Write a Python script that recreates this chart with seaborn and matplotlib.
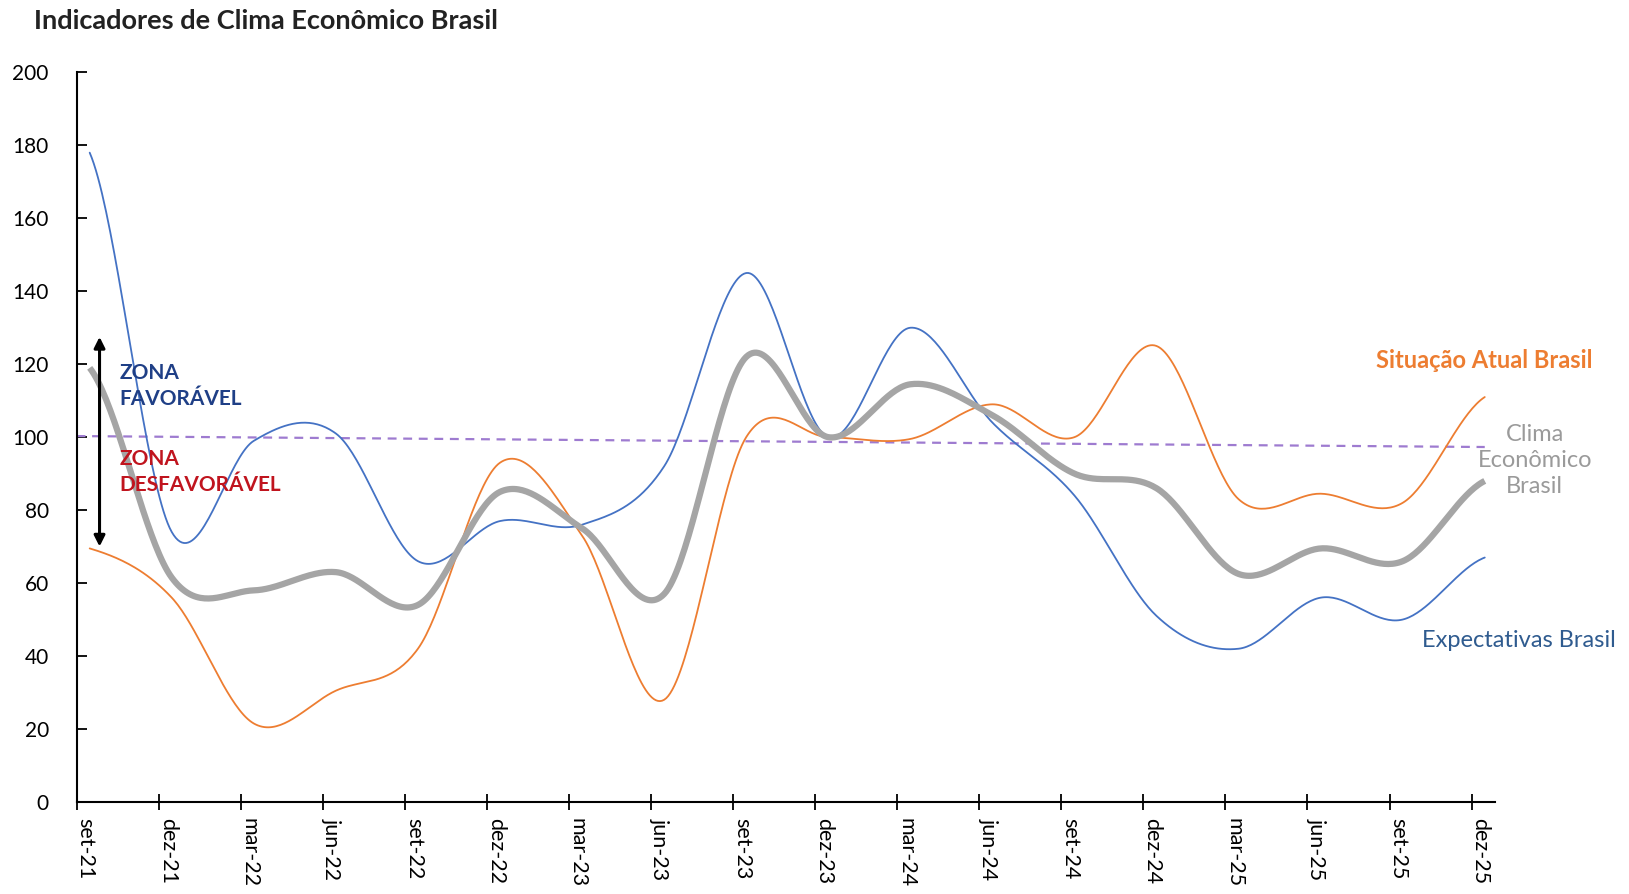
import numpy as np
import matplotlib
matplotlib.use("Agg")
import matplotlib.pyplot as plt
import matplotlib.transforms as mtransforms
import seaborn as sns

periodos = ["set-21", "dez-21", "mar-22", "jun-22", "set-22", "dez-22", "mar-23", "jun-23", "set-23",
            "dez-23", "mar-24", "jun-24", "set-24", "dez-24", "mar-25", "jun-25", "set-25", "dez-25"]
expectativas = [178, 74, 99, 101, 66, 77, 76, 92, 145, 100, 130, 104, 84, 51, 42, 56, 50, 67]
situacao_atual = [69.5, 56, 21.5, 30.5, 42, 93, 73, 28, 100, 100, 99.5, 109, 100, 125, 83, 84.5, 82, 111]
clima = [119, 61.5, 58, 63, 54, 85, 75, 57, 122, 100, 114.5, 106, 90, 86, 62.5, 69.5, 66, 88]
linha_neutra = [100.3, 97.3]
y_ticks = [0, 20, 40, 60, 80, 100, 120, 140, 160, 180, 200]

AZUL = "#4472C4"
LARANJA = "#ED7D31"
CINZA = "#A5A5A5"
ROXO = "#9E7BD0"

sns.set_theme(style="white")
plt.rcParams["font.family"] = ["Lato", "DejaVu Sans"]


def suavizar(valores, desl, passos=40):
    """Curva suavizada estilo Excel (Catmull-Rom) passando pelos pontos."""
    y = np.asarray(valores, dtype=float)
    n = len(y)
    m = np.empty(n)
    m[1:-1] = (y[2:] - y[:-2]) / 2
    m[0] = (y[1] - y[0]) / 2
    m[-1] = (y[-1] - y[-2]) / 2
    t = np.linspace(0, 1, passos, endpoint=False)
    h00 = 2 * t**3 - 3 * t**2 + 1
    h10 = t**3 - 2 * t**2 + t
    h01 = -2 * t**3 + 3 * t**2
    h11 = t**3 - t**2
    xs, ys = [], []
    for i in range(n - 1):
        xs.append(i + t + desl)
        ys.append(h00 * y[i] + h10 * m[i] + h01 * y[i + 1] + h11 * m[i + 1])
    xs.append([n - 1 + desl])
    ys.append([y[-1]])
    return np.concatenate(xs), np.concatenate(ys)


fig, ax = plt.subplots(figsize=(16.29, 8.94), dpi=100)
fig.subplots_adjust(left=0.047, right=0.918, top=0.919, bottom=0.103)

desl = 0.16
n = len(periodos)

sns.lineplot(x=[0, n - 1 + desl], y=linha_neutra, ax=ax, color=ROXO, lw=1.6,
             linestyle=(0, (4, 3)))

x, y = suavizar(situacao_atual, desl)
sns.lineplot(x=x, y=y, ax=ax, color=LARANJA, lw=1.3, sort=False)
x, y = suavizar(expectativas, desl)
sns.lineplot(x=x, y=y, ax=ax, color=AZUL, lw=1.3, sort=False)
x, y = suavizar(clima, desl)
sns.lineplot(x=x, y=y, ax=ax, color=CINZA, lw=4.5, sort=False, solid_capstyle="butt")

ax.set_xlim(0, 17.29)
ax.set_ylim(0, 200)
ax.set_xticks(range(n))
ax.set_xticklabels(periodos, rotation=-90, fontsize=15.5, va="top", ha="center")
ax.set_yticks(y_ticks)
ax.tick_params(axis="y", direction="in", length=7, width=1.3, pad=20, labelsize=15,
               left=True, colors="black")
ax.tick_params(axis="x", direction="inout", length=11, width=1.3, pad=6, bottom=True,
               colors="black")
for lbl in ax.get_xticklabels():
    lbl.set_transform(lbl.get_transform() + mtransforms.ScaledTranslation(0.09, 0, fig.dpi_scale_trans))

for lado in ["top", "right"]:
    ax.spines[lado].set_visible(False)
for lado in ["left", "bottom"]:
    ax.spines[lado].set_color("black")
    ax.spines[lado].set_linewidth(1.5)
ax.set_xlabel("")
ax.set_ylabel("")

# seta de zonas
ax.annotate("", xy=(0.28, 70), xytext=(0.28, 127.5),
            arrowprops=dict(arrowstyle="<|-|>", color="black", lw=2.2,
                            mutation_scale=16, shrinkA=0, shrinkB=0))
ax.text(0.52, 114, "ZONA\nFAVORÁVEL", color="#1F3F86", fontsize=15, fontweight="bold",
        va="center", ha="left", linespacing=1.35)
ax.text(0.52, 90.5, "ZONA\nDESFAVORÁVEL", color="#C0141E", fontsize=15, fontweight="bold",
        va="center", ha="left", linespacing=1.35)

# rótulos das séries
ax.text(18.47, 121, "Situação Atual Brasil", color=LARANJA, fontsize=17, fontweight="bold",
        ha="right", va="center")
ax.text(17.77, 93.7, "Clima\nEconômico\nBrasil", color="#9A9A9A", fontsize=17,
        ha="center", va="center", linespacing=1.3)
ax.text(18.76, 44.2, "Expectativas Brasil", color="#2F5B8F", fontsize=17,
        ha="right", va="center")

fig.text(0.021, 0.977, "Indicadores de Clima Econômico Brasil", fontsize=19.5, fontweight="bold",
         color="#222222", ha="left", va="center")

fig.savefig("out.png", dpi=100)
